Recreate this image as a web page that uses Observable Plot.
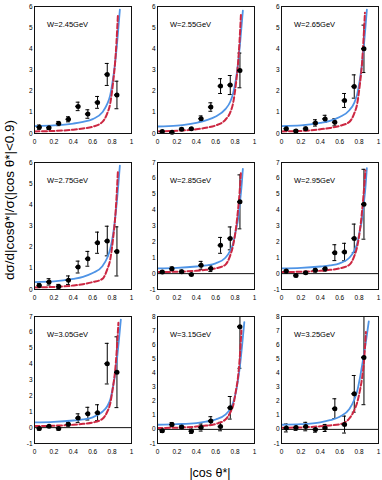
<!DOCTYPE html>
<html><head><meta charset="utf-8">
<script src="https://cdn.jsdelivr.net/npm/d3@7"></script>
<script src="https://cdn.jsdelivr.net/npm/@observablehq/plot@0.6"></script>
<style>
body{margin:0;background:#fff;}
#wrap{position:relative;width:382px;height:480px;overflow:hidden;font-family:"Liberation Sans",Arial,sans-serif;background:#fff;}
.panel{position:absolute;}
#ytitle{position:absolute;left:9px;top:200px;transform:translate(-50%,-50%) rotate(-90deg);white-space:nowrap;font-size:13.5px;color:#000;}
#xtitle{position:absolute;left:210px;top:473px;transform:translate(-50%,-50%);white-space:nowrap;font-size:12.5px;color:#000;}
</style></head><body>
<div id="wrap">
  <div id="ytitle">dσ/d|cosθ*|/σ(|cos θ*|&lt;0.9)</div>
  <div id="xtitle">|cos θ*|</div>
</div>
<script>
// ---- data ----
const energies = ["W=2.45GeV","W=2.55GeV","W=2.65GeV","W=2.75GeV","W=2.85GeV","W=2.95GeV","W=3.05GeV","W=3.15GeV","W=3.25GeV"];
const cosX = [0.05,0.15,0.25,0.35,0.45,0.55,0.65,0.75,0.85];
const yVals = [
  [0.30,0.27,0.47,0.67,1.28,0.92,1.47,2.79,1.82],
  [0.09,0.06,0.20,0.22,0.70,1.25,2.24,2.29,2.98],
  [0.23,0.12,0.22,0.50,0.69,0.53,1.56,2.22,4.00],
  [0.19,0.36,0.14,0.44,1.06,1.45,2.21,2.29,1.80],
  [0.10,0.30,0.12,-0.05,0.52,0.33,1.78,2.22,4.52],
  [0.16,-0.12,0.05,0.22,0.30,1.32,1.36,2.22,4.37],
  [-0.06,0.08,-0.06,0.21,0.60,0.88,0.94,4.03,3.49],
  [-0.10,0.34,0.17,-0.13,0.13,0.60,0.20,1.53,7.28],
  [0.10,0.13,0.20,0.00,0.10,1.47,0.34,2.52,5.10]
];
const yErrs = [
  [0.10,0.08,0.10,0.12,0.20,0.20,0.28,0.52,0.65],
  [0.06,0.05,0.06,0.06,0.13,0.20,0.35,0.45,0.82],
  [0.10,0.06,0.08,0.15,0.17,0.17,0.33,0.55,1.12],
  [0.10,0.15,0.10,0.20,0.28,0.35,0.50,0.70,1.16],
  [0.08,0.12,0.10,0.06,0.25,0.20,0.50,0.72,1.70],
  [0.12,0.08,0.06,0.12,0.15,0.50,0.55,0.90,2.20],
  [0.10,0.06,0.10,0.12,0.27,0.40,0.50,1.28,2.23],
  [0.12,0.15,0.10,0.15,0.25,0.30,0.30,0.80,2.95],
  [0.28,0.20,0.30,0.20,0.25,0.70,0.60,1.30,3.35]
];
const yDomains = [[0,6],[0,6],[0,6],[0,6],[-1,7],[-1,7],[-1,7],[-1,8],[-1,8]];
const xTicks = [0,0.2,0.4,0.6,0.8,1];
// model curves (blue solid), [cosθ, value] samples
const blueCurves = [
  [[0,0.35],[0.2,0.38],[0.4,0.47],[0.5,0.55],[0.6,0.68],[0.7,1.0],[0.75,1.4],[0.78,1.8],[0.81,2.6],[0.83,3.3],[0.85,4.2],[0.865,5.0],[0.88,5.85]],
  [[0,0.33],[0.2,0.37],[0.4,0.5],[0.5,0.62],[0.6,0.8],[0.7,1.15],[0.75,1.5],[0.78,1.9],[0.81,2.6],[0.83,3.3],[0.85,4.2],[0.865,5.0],[0.88,5.8]],
  [[0,0.35],[0.2,0.38],[0.4,0.5],[0.5,0.6],[0.6,0.78],[0.7,1.1],[0.75,1.45],[0.78,1.85],[0.81,2.6],[0.83,3.3],[0.85,4.2],[0.865,5.0],[0.88,5.85]],
  [[0,0.35],[0.2,0.38],[0.4,0.5],[0.5,0.6],[0.6,0.78],[0.7,1.1],[0.75,1.5],[0.78,1.9],[0.81,2.6],[0.83,3.3],[0.85,4.2],[0.865,5.0],[0.88,5.85]],
  [[0,0.33],[0.2,0.36],[0.4,0.45],[0.5,0.52],[0.6,0.65],[0.7,1.0],[0.75,1.45],[0.78,1.9],[0.81,2.8],[0.83,3.4],[0.85,4.5],[0.865,5.4],[0.88,6.6]],
  [[0,0.33],[0.2,0.36],[0.4,0.45],[0.5,0.52],[0.6,0.65],[0.7,1.0],[0.75,1.45],[0.78,1.9],[0.81,2.8],[0.83,3.4],[0.85,4.5],[0.865,5.4],[0.88,6.65]],
  [[0,0.33],[0.2,0.36],[0.4,0.45],[0.5,0.52],[0.6,0.65],[0.7,1.0],[0.75,1.35],[0.78,1.75],[0.81,2.6],[0.83,3.3],[0.85,4.3],[0.87,5.5],[0.89,6.8]],
  [[0,0.33],[0.2,0.37],[0.4,0.45],[0.5,0.55],[0.6,0.7],[0.7,1.05],[0.75,1.45],[0.78,1.9],[0.81,2.7],[0.83,3.5],[0.85,4.5],[0.87,5.8],[0.895,7.6]],
  [[0,0.33],[0.2,0.37],[0.4,0.5],[0.5,0.65],[0.6,0.9],[0.7,1.45],[0.75,2.1],[0.78,2.7],[0.81,3.7],[0.83,4.5],[0.85,5.3],[0.87,6.2],[0.9,7.65]]
];
// model curves (red dashed)
const redCurves = [
  [[0,0.1],[0.2,0.12],[0.4,0.18],[0.5,0.24],[0.6,0.32],[0.7,0.55],[0.75,0.95],[0.78,1.4],[0.81,2.4],[0.83,3.3],[0.845,4.3],[0.86,5.6]],
  [[0,0.1],[0.2,0.13],[0.4,0.2],[0.5,0.27],[0.6,0.38],[0.7,0.65],[0.75,1.0],[0.78,1.45],[0.81,2.4],[0.83,3.3],[0.845,4.3],[0.86,5.6]],
  [[0,0.1],[0.2,0.12],[0.4,0.2],[0.5,0.26],[0.6,0.36],[0.7,0.55],[0.75,0.95],[0.78,1.4],[0.81,2.4],[0.83,3.3],[0.845,4.4],[0.86,5.7]],
  [[0,0.1],[0.2,0.12],[0.4,0.19],[0.5,0.25],[0.6,0.35],[0.7,0.5],[0.75,0.95],[0.78,1.4],[0.81,2.4],[0.83,3.3],[0.845,4.3],[0.86,5.6]],
  [[0,0.1],[0.2,0.12],[0.4,0.18],[0.5,0.24],[0.6,0.33],[0.7,0.56],[0.75,1.15],[0.78,1.8],[0.81,2.9],[0.83,4.0],[0.845,5.0],[0.86,6.4]],
  [[0,0.1],[0.2,0.12],[0.4,0.18],[0.5,0.24],[0.6,0.33],[0.7,0.56],[0.75,1.1],[0.78,1.7],[0.81,2.8],[0.83,3.9],[0.845,4.9],[0.865,6.5]],
  [[0,0.1],[0.2,0.12],[0.4,0.18],[0.5,0.24],[0.6,0.32],[0.7,0.55],[0.75,1.0],[0.78,1.5],[0.81,2.6],[0.83,3.5],[0.845,4.6],[0.865,6.6]],
  [[0,0.1],[0.2,0.12],[0.4,0.2],[0.5,0.27],[0.6,0.38],[0.7,0.7],[0.75,1.2],[0.78,1.7],[0.81,2.8],[0.83,3.7],[0.845,4.8],[0.865,7.0]],
  [[0,0.12],[0.2,0.14],[0.4,0.22],[0.5,0.28],[0.6,0.36],[0.7,0.78],[0.75,1.35],[0.78,1.9],[0.81,2.8],[0.83,3.6],[0.85,4.8],[0.87,6.9]]
];

// ---- layout ----
const colLeft = [34, 157, 281];
const rowTop = [5.5, 161.5, 316];
const FW = 97, FH = 127;
const ML = 22, MR = 8, MT = 8, MB = 20;
const wrap = document.getElementById("wrap");

for (let i = 0; i < 9; i++) {
  const r = Math.floor(i / 3), c = i % 3;
  const data = cosX.map((x, j) => ({x, y: yVals[i][j], e: yErrs[i][j]}));
  const blue = blueCurves[i].map(([x, y]) => ({x, y}));
  const red = redCurves[i].map(([x, y]) => ({x, y}));
  const [y0, y1] = yDomains[i];
  const plot = Plot.plot({
    width: FW + ML + MR, height: FH + MT + MB,
    marginLeft: ML, marginRight: MR, marginTop: MT, marginBottom: MB,
    style: {fontFamily: "'Liberation Sans', Arial, sans-serif", fontSize: "6.5px", background: "transparent", overflow: "visible", color: "#000"},
    x: {domain: [0, 1], ticks: xTicks, tickSize: 0, tickPadding: 6, label: null, tickFormat: d => String(d)},
    y: {domain: [y0, y1], ticks: d3.range(y0, y1 + 1), tickSize: 0, tickPadding: 2, label: null, tickFormat: d => String(d)},
    marks: [
      y0 < 0 ? Plot.ruleY([0], {stroke: "#111", strokeWidth: 1}) : null,
      Plot.ruleX(data, {x: "x", y1: d => d.y - d.e, y2: d => d.y + d.e, stroke: "#000", strokeWidth: 1, clip: true}),
      Plot.ruleY(data, {y: d => d.y - d.e, x1: d => d.x - 0.02, x2: d => d.x + 0.02, stroke: "#000", strokeWidth: 1, clip: true}),
      Plot.ruleY(data, {y: d => d.y + d.e, x1: d => d.x - 0.02, x2: d => d.x + 0.02, stroke: "#000", strokeWidth: 1, clip: true}),
      Plot.line(blue, {x: "x", y: "y", stroke: "#4f94e6", strokeWidth: 1.8, curve: "monotone-x", clip: true}),
      Plot.line(red, {x: "x", y: "y", stroke: "#cc2742", strokeWidth: 2, strokeDasharray: "5,2.5", curve: "monotone-x", clip: true}),
      Plot.ruleY(data, {y: "y", x1: d => d.x - 0.025, x2: d => d.x + 0.025, stroke: "#000", strokeWidth: 1.5}),
      Plot.dot(data, {x: "x", y: "y", r: 2.5, fill: "#000", stroke: "none"}),
      Plot.text([energies[i]], {frameAnchor: "top-left", dx: 12.5, dy: 15, textAnchor: "start", fontSize: 7.5, fill: "#000"}),
      Plot.frame({stroke: "#111", strokeWidth: 1})
    ]
  });
  plot.classList.add("panel");
  plot.style.position = "absolute";
  plot.style.left = (colLeft[c] - ML) + "px";
  plot.style.top = (rowTop[r] - MT) + "px";
  wrap.appendChild(plot);
}
</script>
</body></html>
